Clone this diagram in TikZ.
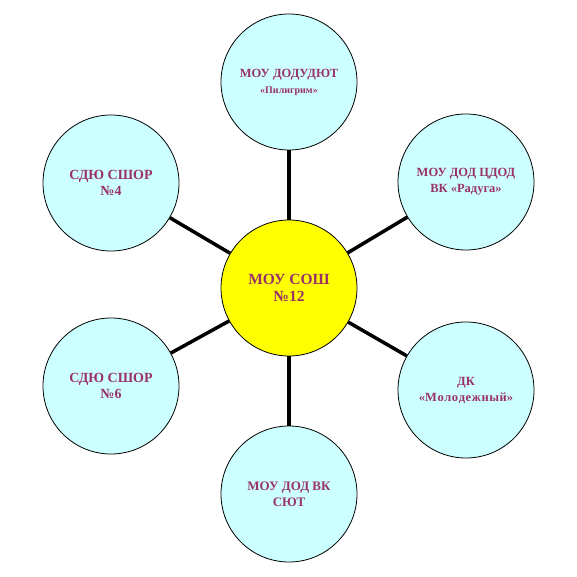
\documentclass[tikz,border=0pt]{standalone}
\usepackage{fontspec}
\setmainfont{Liberation Serif}
\definecolor{txt}{HTML}{993366}
\definecolor{lcyan}{HTML}{CCFFFF}
\definecolor{yel}{HTML}{FFFF00}
\tikzset{
  outer/.style={circle, draw=black, line width=0.8pt, fill=lcyan, minimum size=136pt, inner sep=0pt, align=center, text=txt, font=\bfseries\fontsize{13}{16}\selectfont},
  center/.style={outer, fill=yel, font=\bfseries\fontsize{15.5}{17}\selectfont},
  link/.style={line width=3.5pt, black}
}
\begin{document}
\begin{tikzpicture}[x=1pt,y=1pt]
\useasboundingbox (0,0) rectangle (577,577);
\node[center] (c) at (289,289) {МОУ СОШ\\№12};
\node[outer] (t) at (289,495) {{\fontsize{12.5}{14}\selectfont МОУ ДОДУДЮТ}\\{\fontsize{10}{12}\selectfont «Пилигрим»}};
\node[outer] (tr) at (466,395) {{\fontsize{12.5}{16}\selectfont МОУ ДОД ЦДОД}\\{\fontsize{12.5}{16}\selectfont ВК «Радуга»}};
\node[outer] (tl) at (111,394) {{\fontsize{14}{16}\selectfont СДЮ СШОР}\\{\fontsize{14}{16}\selectfont №4}};
\node[outer] (br) at (466,187) {{\fontsize{12.5}{15}\selectfont ДК}\\{\fontsize{12.5}{15}\selectfont«М\kern0.6pt о\kern0.6pt л\kern0.6pt о\kern0.6pt д\kern0.6pt е\kern0.6pt ж\kern0.6pt н\kern0.6pt ы\kern0.6pt й»}};
\node[outer] (b) at (289,83) {МОУ ДОД ВК\\СЮТ};
\node[outer] (bl) at (111,191) {{\fontsize{14}{16}\selectfont СДЮ СШОР}\\{\fontsize{14}{16}\selectfont №6}};
\foreach \n in {t,tr,tl,br,b,bl} \draw[link] (c) -- (\n);
\end{tikzpicture}
\end{document}
